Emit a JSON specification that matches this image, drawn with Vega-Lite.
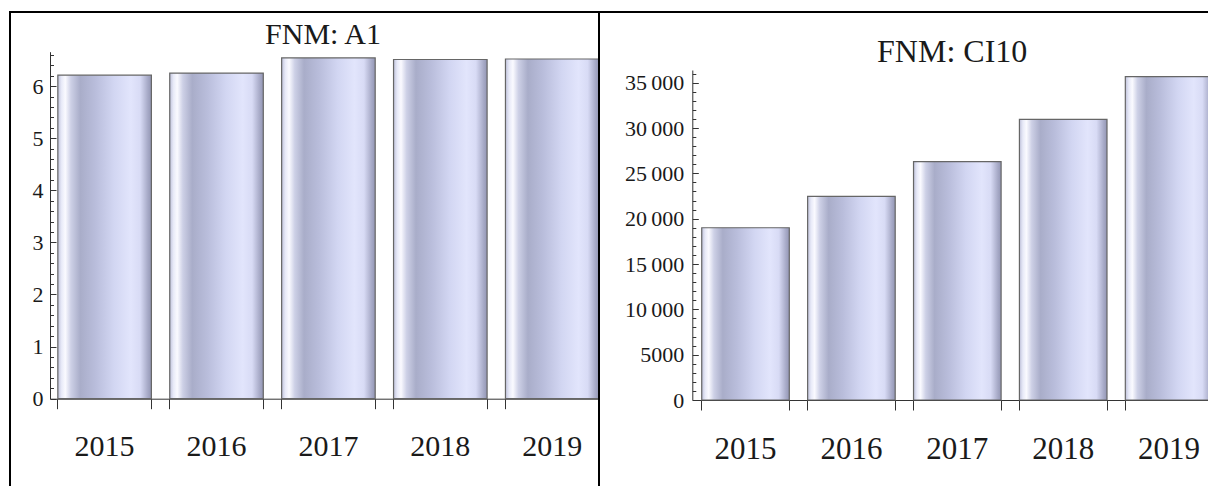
{
  "$schema": "https://vega.github.io/schema/vega-lite/v6.json",
  "background": "white",
  "padding": {"left": 9, "top": 11, "right": -8, "bottom": -4},
  "bounds": "flush",
  "spacing": 0,
  "config": {
    "view": {"stroke": "black", "strokeWidth": 2},
    "axis": {"grid": false, "title": null, "labelFont": "Liberation Serif", "labelColor": "#1a1a1a", "domainColor": "#333333", "tickColor": "#333333", "labelOverlap": false, "labelFlush": false}
  },
  "hconcat": [
    {
      "width": 589,
      "height": 477,
      "data": {"values": [
        {"year": "2015", "value": 6.21},
        {"year": "2016", "value": 6.25},
        {"year": "2017", "value": 6.54},
        {"year": "2018", "value": 6.51},
        {"year": "2019", "value": 6.52}
      ]},
      "layer": [
        {
          "mark": {"type": "bar", "stroke": "#666666", "strokeWidth": 1.2,
            "fill": {"gradient": "linear", "x1": 0, "y1": 0, "x2": 1, "y2": 0, "stops": [
              {"offset": 0, "color": "#c0c3dc"},
              {"offset": 0.04, "color": "#e8eaf8"},
              {"offset": 0.08, "color": "#fafaff"},
              {"offset": 0.14, "color": "#cdd0e6"},
              {"offset": 0.24, "color": "#a9adc9"},
              {"offset": 0.4, "color": "#b9bddb"},
              {"offset": 0.6, "color": "#d2d6f2"},
              {"offset": 0.78, "color": "#e2e5fc"},
              {"offset": 0.88, "color": "#d8dbf5"},
              {"offset": 0.96, "color": "#a8abc8"},
              {"offset": 1, "color": "#9396b4"}
            ]}},
          "encoding": {
            "x": {"field": "year", "type": "ordinal",
              "scale": {"type": "band", "range": [40, 589], "paddingInner": 0.164, "paddingOuter": 0.035, "align": 1},
              "axis": {"orient": "bottom", "offset": -90.3, "ticks": false, "domain": true, "labelFontSize": 30, "labelAngle": 0, "labelBaseline": "alphabetic", "labelPadding": 57}},
            "y": {"field": "value", "type": "quantitative",
              "scale": {"domain": [0, 6.66], "range": [386.7, 39.7], "nice": false, "zero": false},
              "axis": {"orient": "left", "offset": -40, "values": [0, 1, 2, 3, 4, 5, 6], "ticks": false, "domain": true, "labelFontSize": 22, "labelPadding": 7}}
          }
        },
        {
          "mark": {"type": "bar", "opacity": 0},
          "encoding": {
            "x": {"field": "year", "type": "ordinal",
              "axis": {"orient": "bottom", "offset": -90.3, "bandPosition": 0, "labels": false, "domain": false, "ticks": true, "tickSize": 10, "tickWidth": 1}},
            "y": {"field": "value", "type": "quantitative",
              "axis": {"orient": "left", "offset": -40, "values": [0, 1, 2, 3, 4, 5, 6], "labels": false, "domain": false, "ticks": true, "tickSize": -6, "tickWidth": 1}}
          }
        },
        {
          "mark": {"type": "bar", "opacity": 0},
          "encoding": {
            "x": {"field": "year", "type": "ordinal",
              "axis": {"orient": "bottom", "offset": -90.3, "bandPosition": 1, "labels": false, "domain": false, "ticks": true, "tickSize": 10, "tickWidth": 1}},
            "y": {"field": "value", "type": "quantitative",
              "axis": {"orient": "left", "offset": -40, "values": [0.2, 0.4, 0.6, 0.8, 1.2, 1.4, 1.6, 1.8, 2.2, 2.4, 2.6, 2.8, 3.2, 3.4, 3.6, 3.8, 4.2, 4.4, 4.6, 4.8, 5.2, 5.4, 5.6, 5.8, 6.2, 6.4, 6.6], "labels": false, "domain": false, "ticks": true, "tickSize": -3.5, "tickWidth": 1}}
          }
        },
        {
          "mark": {"type": "bar", "opacity": 0},
          "encoding": {
            "x": {"field": "year", "type": "ordinal",
              "axis": {"orient": "top", "offset": 0, "labels": false, "domain": false, "ticks": false,
                "title": "FNM: A1", "titleFont": "Liberation Serif", "titleFontSize": 30, "titleFontWeight": "normal", "titleColor": "#1a1a1a",
                "titleBaseline": "alphabetic", "titleAlign": "center", "titleX": 312.5, "titleY": 31.3}},
            "y": {"field": "value", "type": "quantitative", "axis": null}
          }
        }
      ],
      "resolve": {"axis": {"x": "independent", "y": "independent"}}
    },
    {
      "width": 616,
      "height": 477,
      "data": {"values": [
        {"year": "2015", "value": 19000},
        {"year": "2016", "value": 22470},
        {"year": "2017", "value": 26290},
        {"year": "2018", "value": 30960},
        {"year": "2019", "value": 35660}
      ]},
      "layer": [
        {
          "mark": {"type": "bar", "stroke": "#666666", "strokeWidth": 1.2,
            "fill": {"gradient": "linear", "x1": 0, "y1": 0, "x2": 1, "y2": 0, "stops": [
              {"offset": 0, "color": "#c0c3dc"},
              {"offset": 0.04, "color": "#e8eaf8"},
              {"offset": 0.08, "color": "#fafaff"},
              {"offset": 0.14, "color": "#cdd0e6"},
              {"offset": 0.24, "color": "#a9adc9"},
              {"offset": 0.4, "color": "#b9bddb"},
              {"offset": 0.6, "color": "#d2d6f2"},
              {"offset": 0.78, "color": "#e2e5fc"},
              {"offset": 0.88, "color": "#d8dbf5"},
              {"offset": 0.96, "color": "#a8abc8"},
              {"offset": 1, "color": "#9396b4"}
            ]}},
          "encoding": {
            "x": {"field": "year", "type": "ordinal",
              "scale": {"type": "band", "range": [93.3, 613.9], "paddingInner": 0.173, "paddingOuter": 0.0445, "align": 1},
              "axis": {"orient": "bottom", "offset": -89, "ticks": false, "domain": true, "labelFontSize": 31, "labelAngle": 0, "labelBaseline": "alphabetic", "labelPadding": 58.5}},
            "y": {"field": "value", "type": "quantitative",
              "scale": {"domain": [0, 36400], "range": [388, 58], "nice": false, "zero": false},
              "axis": {"orient": "left", "offset": -93.3, "values": [0, 5000, 10000, 15000, 20000, 25000, 30000, 35000], "ticks": false, "domain": true, "labelFontSize": 22, "labelPadding": 8.5,
                "labelExpr": "datum.value >= 10000 ? format(floor(datum.value / 1000), 'd') + '\u2009000' : format(datum.value, 'd')"}}
          }
        },
        {
          "mark": {"type": "bar", "opacity": 0},
          "encoding": {
            "x": {"field": "year", "type": "ordinal",
              "axis": {"orient": "bottom", "offset": -89, "bandPosition": 0, "labels": false, "domain": false, "ticks": true, "tickSize": 10, "tickWidth": 1}},
            "y": {"field": "value", "type": "quantitative",
              "axis": {"orient": "left", "offset": -93.3, "values": [0, 5000, 10000, 15000, 20000, 25000, 30000, 35000], "labels": false, "domain": false, "ticks": true, "tickSize": -6, "tickWidth": 1}}
          }
        },
        {
          "mark": {"type": "bar", "opacity": 0},
          "encoding": {
            "x": {"field": "year", "type": "ordinal",
              "axis": {"orient": "bottom", "offset": -89, "bandPosition": 1, "labels": false, "domain": false, "ticks": true, "tickSize": 10, "tickWidth": 1}},
            "y": {"field": "value", "type": "quantitative",
              "axis": {"orient": "left", "offset": -93.3, "values": [1000, 2000, 3000, 4000, 6000, 7000, 8000, 9000, 11000, 12000, 13000, 14000, 16000, 17000, 18000, 19000, 21000, 22000, 23000, 24000, 26000, 27000, 28000, 29000, 31000, 32000, 33000, 34000, 36000], "labels": false, "domain": false, "ticks": true, "tickSize": -3.5, "tickWidth": 1}}
          }
        },
        {
          "mark": {"type": "bar", "opacity": 0},
          "encoding": {
            "x": {"field": "year", "type": "ordinal",
              "axis": {"orient": "top", "offset": 0, "labels": false, "domain": false, "ticks": false,
                "title": "FNM: CI10", "titleFont": "Liberation Serif", "titleFontSize": 32, "titleFontWeight": "normal", "titleColor": "#1a1a1a",
                "titleBaseline": "alphabetic", "titleAlign": "center", "titleX": 352.7, "titleY": 49.7}},
            "y": {"field": "value", "type": "quantitative", "axis": null}
          }
        }
      ],
      "resolve": {"axis": {"x": "independent", "y": "independent"}}
    }
  ]
}
